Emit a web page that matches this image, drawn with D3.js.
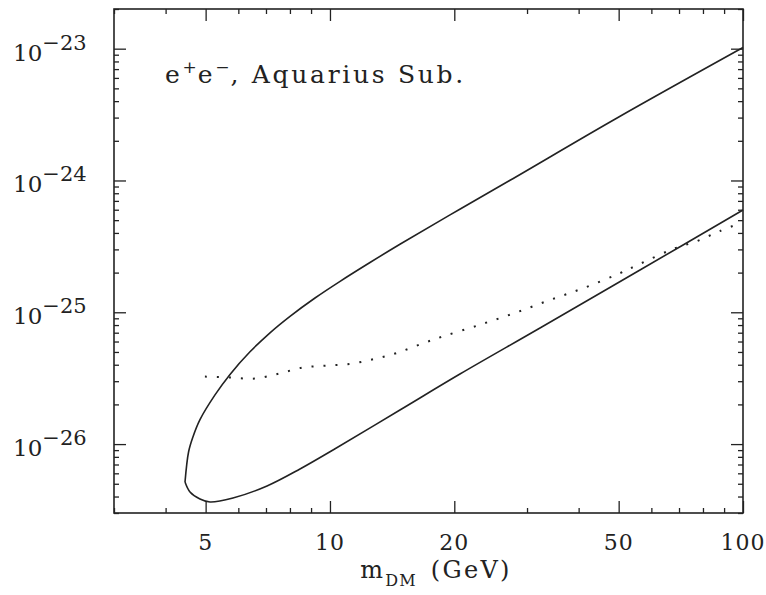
<!DOCTYPE html>
<html><head><meta charset="utf-8">
<script src="https://cdn.jsdelivr.net/npm/d3@7"></script>
<style>
html,body{margin:0;padding:0;background:#fff;}
text{font-family:"DejaVu Serif",serif;fill:#222;}
</style></head>
<body>
<svg id="chart" width="766" height="595"></svg>
<script>
// ---- data ----
const xMajorTicks = [5, 10, 20, 50, 100];
const xMinorTicks = [3, 4, 6, 7, 8, 9, 30, 40, 60, 70, 80, 90];
const yDecadeExps = [-23, -24, -25, -26];
const xDomain = [3, 100];
const yDomain = [3e-27, 2e-23];

// upper branch of the solid contour (from the cusp upward)
const upperMass = [4.457, 4.546, 4.658, 4.845, 5.268, 5.728, 6.403, 7.158, 8.003, 9.199, 10.58, 12.50, 14.77, 19.53, 27.29, 49.55, 100];
const upperSigma = [5.155e-27, 8.71e-27, 1.132e-26, 1.533e-26, 2.361e-26, 3.378e-26, 5.013e-26, 6.99e-26, 9.32e-26, 1.284e-25, 1.718e-25, 2.386e-25, 3.28e-25, 5.48e-25, 1.003e-24, 2.979e-24, 1.02e-23];

// lower branch of the solid contour (from the cusp)
const lowerMass = [4.457, 4.583, 4.845, 5.123, 5.824, 7.041, 8.46, 10.17, 14.77, 20.64, 32.25, 56.31, 100];
const lowerSigma = [5.155e-27, 4.33e-27, 3.83e-27, 3.635e-27, 3.90e-27, 4.81e-27, 6.47e-27, 9.02e-27, 1.814e-26, 3.40e-26, 7.60e-26, 2.093e-25, 5.97e-25];

// dotted curve
const dotMass = [4.98, 5.73, 6.58, 7.53, 8.60, 9.83, 11.3, 12.9, 14.6, 16.7, 19.0, 23.1, 28.1, 34.1, 41.2, 49.8, 56.3, 67.7, 77.4, 87.9, 98.4];
const dotSigma = [3.25e-26, 3.20e-26, 3.14e-26, 3.43e-26, 3.81e-26, 3.94e-26, 4.08e-26, 4.45e-26, 4.94e-26, 5.78e-26, 6.64e-26, 8.05e-26, 9.91e-26, 1.24e-25, 1.53e-25, 1.95e-25, 2.33e-25, 3.02e-25, 3.47e-25, 4.13e-25, 4.75e-25];

// ---- layout ----
const L = 114, R = 743, T = 9, B = 513;
const svg = d3.select("#chart");
const x = d3.scaleLog().domain(xDomain).range([L, R]);
const y = d3.scaleLog().domain(yDomain).range([B, T]);
const ink = "#222";

const yMinor = [];
for (let e = -27; e <= -23; e++) for (let m = 2; m <= 9; m++) {
  const v = m * Math.pow(10, e);
  if (v >= yDomain[0] && v <= yDomain[1]) yMinor.push(v);
}
const yMajor = yDecadeExps.map(e => Math.pow(10, e));

const majorLen = 12, minorLen = 5;
function styleAxis(g) {
  g.select(".domain").remove();
  g.selectAll("text").remove();
  g.selectAll("line").attr("stroke", ink).attr("stroke-width", 1.3);
}
svg.append("g").attr("transform", `translate(0,${B})`)
  .call(d3.axisBottom(x).tickValues(xMajorTicks).tickSize(-majorLen)).call(styleAxis);
svg.append("g").attr("transform", `translate(0,${B})`)
  .call(d3.axisBottom(x).tickValues(xMinorTicks).tickSize(-minorLen)).call(styleAxis);
svg.append("g").attr("transform", `translate(0,${T})`)
  .call(d3.axisTop(x).tickValues(xMajorTicks).tickSize(-majorLen)).call(styleAxis);
svg.append("g").attr("transform", `translate(0,${T})`)
  .call(d3.axisTop(x).tickValues(xMinorTicks).tickSize(-minorLen)).call(styleAxis);
svg.append("g").attr("transform", `translate(${L},0)`)
  .call(d3.axisLeft(y).tickValues(yMajor).tickSize(-majorLen)).call(styleAxis);
svg.append("g").attr("transform", `translate(${L},0)`)
  .call(d3.axisLeft(y).tickValues(yMinor).tickSize(-minorLen)).call(styleAxis);
svg.append("g").attr("transform", `translate(${R},0)`)
  .call(d3.axisRight(y).tickValues(yMajor).tickSize(-majorLen)).call(styleAxis);
svg.append("g").attr("transform", `translate(${R},0)`)
  .call(d3.axisRight(y).tickValues(yMinor).tickSize(-minorLen)).call(styleAxis);

// frame
svg.append("rect").attr("x", L).attr("y", T).attr("width", R - L).attr("height", B - T)
  .attr("fill", "none").attr("stroke", ink).attr("stroke-width", 1.6);

// x tick labels
svg.append("g").selectAll("text").data(xMajorTicks).join("text")
  .attr("x", d => x(d)).attr("y", B + 37)
  .attr("text-anchor", "middle").attr("font-size", 22).attr("letter-spacing", 1).text(d => d);

// y tick labels
yDecadeExps.forEach(e => {
  const t = svg.append("text").attr("x", 13).attr("y", y(Math.pow(10, e)) + 12).attr("font-size", 23);
  t.append("tspan").text("10");
  t.append("tspan").attr("dy", -11).attr("font-size", 21).text("\u2212" + Math.abs(e));
});

// axis title
const xt = svg.append("text").attr("x", 436).attr("y", 578).attr("text-anchor", "middle")
  .attr("font-size", 24).attr("letter-spacing", 2.3);
xt.append("tspan").text("m");
xt.append("tspan").attr("dy", 8).attr("font-size", 16).attr("letter-spacing", 1).text("DM");
xt.append("tspan").attr("dy", -8).text("\u2002(GeV)");

// annotation
const an = svg.append("text").attr("x", 165).attr("y", 83).attr("font-size", 25).attr("letter-spacing", 2.7);
an.append("tspan").text("e");
an.append("tspan").attr("dy", -10).attr("font-size", 17).attr("letter-spacing", 1).text("+");
an.append("tspan").attr("dy", 10).text("e");
an.append("tspan").attr("dy", -10).attr("font-size", 17).attr("letter-spacing", 1).text("\u2212");
an.append("tspan").attr("dy", 10).text(", Aquarius Sub.");

// curves
const line = d3.line().x(d => x(d[0])).y(d => y(d[1])).curve(d3.curveCatmullRom.alpha(0.5));
const zip = (a, b) => a.map((v, i) => [v, b[i]]);
const curves = svg.append("g").attr("fill", "none");
curves.append("path").attr("d", line(zip(upperMass, upperSigma)))
  .attr("stroke", ink).attr("stroke-width", 1.6);
curves.append("path").attr("d", line(zip(lowerMass, lowerSigma)))
  .attr("stroke", ink).attr("stroke-width", 1.6);
curves.append("path").attr("d", line(zip(dotMass, dotSigma)))
  .attr("stroke", ink).attr("stroke-width", 2).attr("stroke-dasharray", "2,10");
</script>
</body></html>
